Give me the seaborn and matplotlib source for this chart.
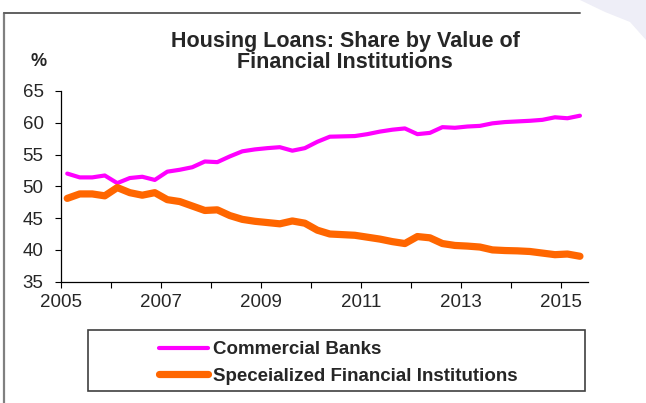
import numpy as np
import pandas as pd
import matplotlib
matplotlib.use("Agg")
import matplotlib.pyplot as plt
from matplotlib.lines import Line2D
from matplotlib.patches import Rectangle, Polygon
import seaborn as sns

# quarterly shares (%), 2005Q1 .. 2015Q2
commercial = [52.0, 51.4, 51.4, 51.7, 50.5, 51.3, 51.5, 51.0, 52.3, 52.6,
              53.0, 53.9, 53.8, 54.7, 55.5, 55.8, 56.0, 56.15, 55.6, 56.0, 57.0,
              57.8, 57.85, 57.9, 58.2, 58.6, 58.9, 59.1, 58.2, 58.4, 59.3,
              59.2, 59.4, 59.5, 59.9, 60.1, 60.2, 60.3, 60.45, 60.85, 60.7, 61.1]
specialized = [48.1, 48.8, 48.8, 48.5, 49.8, 49.0, 48.6, 49.0, 47.9, 47.6,
               46.9, 46.2, 46.3, 45.4, 44.8, 44.5, 44.3, 44.1, 44.55, 44.2, 43.1,
               42.5, 42.4, 42.3, 42.0, 41.7, 41.3, 41.0, 42.1, 41.9, 41.0,
               40.7, 40.6, 40.45, 40.0, 39.9, 39.85, 39.75, 39.5, 39.25, 39.35, 39.0]
quarters = 2005.125 + 0.25 * np.arange(len(commercial))
year_ticks = list(range(2005, 2016))
year_labels = [str(y) if y % 2 == 1 else "" for y in year_ticks]

df = pd.DataFrame({"t": quarters, "cb": commercial, "sfi": specialized})

sns.set_theme(style="white")
plt.rcParams['font.family'] = ['Liberation Sans', 'DejaVu Sans']

W, H = 646, 403
fig = plt.figure(figsize=(W / 100, H / 100), dpi=100)
fig.patch.set_facecolor("white")
ax = fig.add_axes([61 / W, 1 - 281.7 / H, (587.7 - 61) / W, (281.7 - 90.9) / H])

sns.lineplot(data=df, x="t", y="cb", ax=ax, color="#FF00FF", lw=3.0,
             solid_capstyle="round", solid_joinstyle="round", label="Commercial Banks")
sns.lineplot(data=df, x="t", y="sfi", ax=ax, color="#FF6600", lw=5.2,
             solid_capstyle="round", solid_joinstyle="round",
             label="Speceialized Financial Institutions")

ax.set_xlim(2005, 2015.53)
ax.set_ylim(35, 65)
ax.set_xticks(year_ticks)
ax.set_xticklabels(year_labels)
ax.set_yticks(range(35, 70, 5))
ax.set_xlabel("")
ax.set_ylabel("")
ax.tick_params(axis="x", direction="out", length=4, width=0.8, color="black",
               pad=5, labelsize=13.5, bottom=True)
ax.tick_params(axis="y", direction="out", length=4.5, width=0.8, color="black",
               pad=8, labelsize=13.5, left=True)
for s in ["top", "right"]:
    ax.spines[s].set_visible(False)
for s in ["left", "bottom"]:
    ax.spines[s].set_color("black")
    ax.spines[s].set_linewidth(0.9)

# legend, drawn without frame; frame drawn separately below
handles, labels = ax.get_legend_handles_labels()
ax.get_legend().remove()
fig.legend(handles, labels, loc="upper left",
           bbox_to_anchor=(150 / W, 1 - 332 / H), frameon=False,
           prop={"weight": "bold", "size": 13.5}, handlelength=2.6,
           handletextpad=0.25, labelspacing=0.5, borderpad=0)
fig.patches.append(Rectangle((88 / W, 1 - 391 / H), (585 - 88) / W, (391 - 330) / H,
                             transform=fig.transFigure, fill=False,
                             edgecolor="#404040", lw=1.2))

# titles
fig.text(345 / W, 1 - 42 / H, "Housing Loans: Share by Value of", ha="center",
         va="center", fontsize=15.5, fontweight="bold")
fig.text(345 / W, 1 - 63 / H, "Financial Institutions", ha="center",
         va="center", fontsize=15.5, fontweight="bold")
fig.text(39 / W, 1 - 61 / H, "%", ha="center", va="center", fontsize=13,
         fontweight="bold")

# slide frame and corner decoration
fig.add_artist(Polygon([(580 / W, 1.0), (1.0, 1.0), (1.0, 1 - 40 / H),
                        (630 / W, 1 - 22 / H), (605 / W, 1 - 12 / H)],
                       closed=True, transform=fig.transFigure,
                       facecolor="#EEEEF7", edgecolor="none"))
fig.add_artist(Line2D([3.5 / W, 3.5 / W], [0, 1 - 13 / H], transform=fig.transFigure,
                      color="#808080", lw=1.6))
fig.add_artist(Line2D([3.5 / W, 580 / W], [1 - 13 / H, 1 - 13 / H],
                      transform=fig.transFigure, color="#606060", lw=1.4))

fig.savefig("out.png", dpi=100)
